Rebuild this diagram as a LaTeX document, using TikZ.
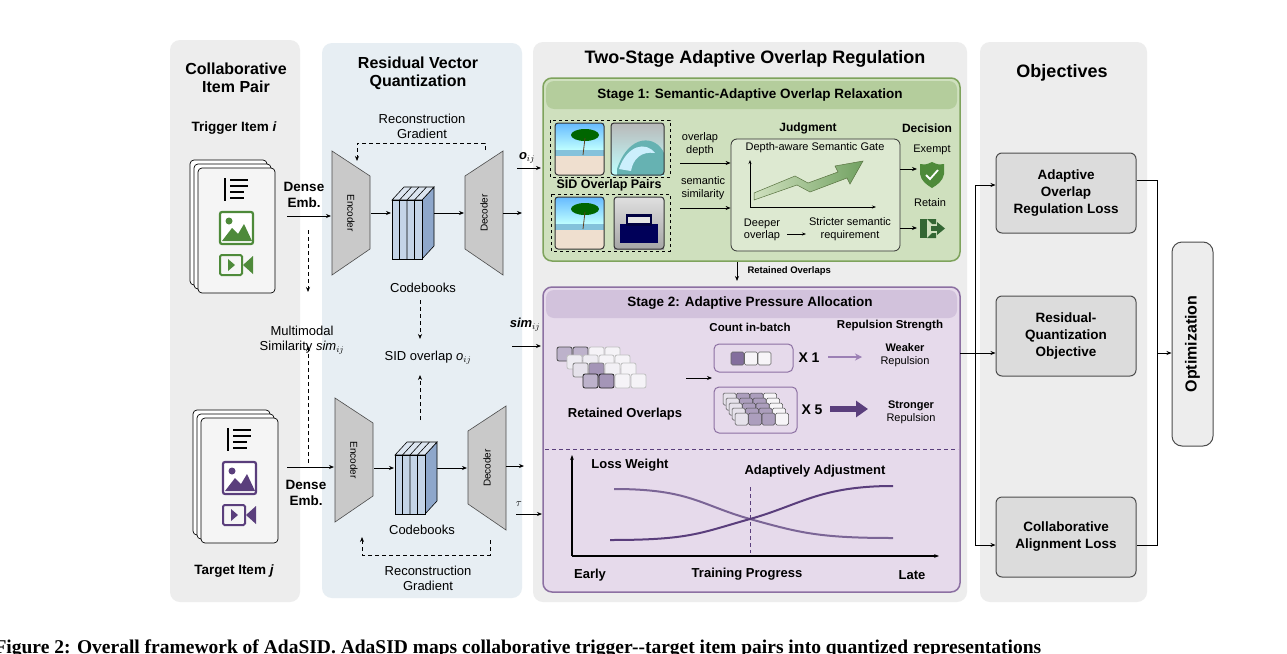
\documentclass[tikz,border=0pt]{standalone}
\usepackage{fontspec}
\setmainfont{Liberation Sans}
\newfontfamily\capfont{Liberation Serif}
\usetikzlibrary{arrows.meta,shapes.geometric}
\definecolor{panelgray}{HTML}{EDEDED}
\definecolor{panelblue}{HTML}{E7EEF3}
\definecolor{sgfill}{HTML}{CFE0BE}
\definecolor{sghead}{HTML}{B4CD9C}
\definecolor{sgline}{HTML}{7EA35C}
\definecolor{spfill}{HTML}{E6DAEB}
\definecolor{sphead}{HTML}{D2C2DC}
\definecolor{spline}{HTML}{8C70A2}
\definecolor{pdark}{HTML}{5A3E7C}
\definecolor{pmid}{HTML}{9C80B5}
\definecolor{gdark}{HTML}{4E8A3A}
\definecolor{objfill}{HTML}{DCDCDC}
\definecolor{cbfront}{HTML}{C4D4E7}
\definecolor{cbside}{HTML}{8EA7CB}
\definecolor{cbtop}{HTML}{DCE5F0}
\definecolor{trap}{HTML}{C9C9C9}
\newcommand{\mycube}[2]{%
 \begin{scope}[shift={(#1,#2)}]
 \fill[cbside,draw=black,line width=0.6pt] (30,0)--(42,-13)--(42,46)--(30,59)--cycle;
 \fill[cbtop,draw=black,line width=0.6pt] (0,0)--(12,-13)--(42,-13)--(30,0)--cycle;
 \fill[cbfront,draw=black,line width=0.6pt] (0,0) rectangle (30,59);
 \foreach \k in {7.5,15,22.5}{\draw[line width=0.6pt] (\k,59)--(\k,0)--++(12,-13);}
 \end{scope}}
\newcommand{\myenc}[3]{%
 \fill[trap,draw=black!70,line width=0.6pt] (#1,#2)--(#1+38,#2+25)--(#1+38,#2+98)--(#1,#2+124)--cycle;
 \node[rotate=-90,font=\fontsize{10}{10}\selectfont] at (#1+19,#2+62) {#3};}
\newcommand{\mydec}[3]{%
 \fill[trap,draw=black!70,line width=0.6pt] (#1,#2+25)--(#1+38,#2)--(#1+38,#2+124)--(#1,#2+98)--cycle;
 \node[rotate=90,font=\fontsize{10}{10}\selectfont] at (#1+19,#2+62) {#3};}
\newcommand{\mydoc}[3]{%
 \begin{scope}[shift={(#1,#2)}]
 \foreach \d in {-8,-4}{\draw[fill=white,rounded corners=4pt,line width=0.7pt] (\d,\d) rectangle ++(77,125);}
 \draw[fill=white!96!black,rounded corners=4pt,line width=0.7pt] (0,0) rectangle (77,125);
 \draw[line width=1.4pt] (27,10)--(27,33);
 \foreach \yy/\ww in {12/18,18/18,24/14,30/14}{\draw[line width=1.4pt] (32,\yy)--++(\ww,0);}
 \draw[#3,line width=2.2pt,rounded corners=2pt,fill=white] (22,44) rectangle (55,76);
 \fill[#3] (24,73)--(34,60)--(40,66)--(46,56)--(54,73)--cycle;
 \fill[#3] (31,53) circle (3.5);
 \draw[#3,line width=2pt,rounded corners=1.5pt] (22,87) rectangle (44,107);
 \fill[#3] (45,97)--(55,88)--(55,106)--cycle;
 \fill[#3] (30,91)--(37,97)--(30,103)--cycle;
 \end{scope}}
\newcommand{\mybeach}[2]{%
 \begin{scope}[shift={(#1,#2)}]
  \fill[top color=blue!45!cyan!60,bottom color=cyan!25] (0,0) rectangle (49,27);
  \fill[cyan!50!teal!55] (0,27) rectangle (49,33);
  \fill[brown!25!white] (0,33) rectangle (49,52);
  \fill[green!40!black] (30,12) ellipse (14 and 6);
  \draw[brown!50!black,line width=0.8pt] (30,15)--(28,32);
  \draw[black!80,rounded corners=3pt,line width=1pt] (0,0) rectangle (49,52);
 \end{scope}}
\newcommand{\mywave}[2]{%
 \begin{scope}[shift={(#1,#2)}]
  \fill[top color=gray!55,bottom color=cyan!25] (0,0) rectangle (53,52);
  \fill[teal!60] (6,46) .. controls (18,10) and (45,12) .. (53,30) -- (53,52) -- (6,52) -- cycle;
  \fill[white!80!cyan] (8,46) .. controls (16,22) and (35,18) .. (44,30) .. controls (30,28) and (22,36) .. (20,48) -- cycle;
  \draw[black!80,rounded corners=3pt,line width=1pt] (0,0) rectangle (53,52);
 \end{scope}}
\newcommand{\mycar}[2]{%
 \begin{scope}[shift={(#1,#2)}]
  \fill[top color=gray!25,bottom color=gray!70] (0,0) rectangle (50,52);
  \fill[blue!35!black] (6,27) rectangle (44,46);
  \fill[blue!25!black] (12,17) rectangle (38,29);
  \fill[gray!20] (14,20) rectangle (36,26);
  \draw[black!80,rounded corners=3pt,line width=1pt] (0,0) rectangle (50,52);
 \end{scope}}
\tikzset{
 panel/.style={rounded corners=10pt,draw=none},
 title/.style={font=\bfseries\fontsize{16}{18}\selectfont,align=center},
 txt/.style={font=\fontsize{13}{15}\selectfont,align=center},
 stxt/.style={font=\fontsize{11}{12.5}\selectfont,align=center},
 sbtxt/.style={font=\bfseries\fontsize{11.5}{13}\selectfont,align=center},
 btxt/.style={font=\bfseries\fontsize{13.5}{16}\selectfont,align=center},
 arr/.style={-{Stealth[length=5pt,width=4pt]},line width=0.8pt},
 darr/.style={-{Stealth[length=5pt,width=4pt]},line width=0.8pt,dash pattern=on 4pt off 3pt},
 objbox/.style={draw=black!70,fill=objfill,rounded corners=6pt,line width=1pt,minimum width=140pt,minimum height=80pt,font=\bfseries\fontsize{13.5}{17}\selectfont,align=center},
}
\begin{document}
\begin{tikzpicture}[x=1pt,y=-1pt]
\useasboundingbox (0,0) rectangle (1287,653);
\fill[white] (0,0) rectangle (1287,653);
\fill[panelgray,panel] (170,40) rectangle (300,602);
\fill[panelblue,panel] (322,43) rectangle (522,598);
\fill[panelgray,panel] (533,42) rectangle (967,602);
\fill[panelgray,panel] (980,42) rectangle (1147,602);
\node[title] (t1) at (236,78) {Collaborative\\Item Pair};
\node[title] (t2) at (418,73) {Residual Vector\\Quantization};
\node[font=\bfseries\fontsize{18}{20}\selectfont] (t3) at (755,59) {Two-Stage Adaptive Overlap Regulation};
\node[font=\bfseries\fontsize{18}{20}\selectfont] (t4) at (1062,73) {Objectives};
\node[btxt] (trig) at (234,128) {Trigger Item \textit{i}};
\node[btxt] (targ) at (234,571) {Target Item \textit{j}};
\mydoc{198}{168}{gdark}
\mydoc{201}{418}{pdark}
\node[btxt] (de1) at (304,195) {Dense\\Emb.};
\node[btxt] (de2) at (306,493) {Dense\\Emb.};
\node[txt] (mm) at (302,340) {Multimodal\\Similarity \textit{sim}$_{ij}$};
\coordinate (in1) at (287,216); \coordinate (in2) at (287,467);
\myenc{332}{151}{Encoder}
\myenc{335}{398}{Encoder}
\mydec{465}{151}{Decoder}
\mydec{468}{406}{Decoder}
\mycube{392}{200}
\mycube{395}{455}
\node[txt] (cb1) at (423,288) {Codebooks};
\node[txt] (cb2) at (422,530) {Codebooks};
\node[txt] (sid) at (428,358) {SID overlap \textit{o}$_{ij}$};
\node[txt] (rg1) at (422,126) {Reconstruction\\Gradient};
\node[txt] (rg2) at (428,578) {Reconstruction\\Gradient};
\coordinate (e1) at (331,216); \coordinate (e2) at (334,467);
\draw[arr] (in1)--(e1); \draw[arr] (in2)--(e2);
\draw[arr] (371,213)--(391,213); \draw[arr] (434,213)--(464,213);
\draw[arr] (374,468)--(394,468); \draw[arr] (437,468)--(467,468);
\draw[arr] (503,213)--(522,213); \draw[arr] (506,466)--(524,466);
\draw[darr] (485,150)--(485,143)--(357,143)--(357,161);
\draw[darr] (490,540)--(490,555)--(362,555)--(362,537);
\draw[darr] (308,230)--(308,292);
\draw[darr] (308,463)--(308,346);
\draw[darr] (420,300)--(420,339);
\draw[darr] (420,420)--(420,375);
\node[font=\bfseries\itshape\fontsize{13}{14}\selectfont] (oij) at (527,158) {o$_{ij}$};
\node[font=\bfseries\itshape\fontsize{13}{14}\selectfont] (simij) at (525,325) {sim$_{ij}$};
\node[font=\bfseries\fontsize{11}{12}\selectfont] (tau) at (519,504) {$\tau$};
\draw[arr] (517,168)--(541,168);
\draw[arr] (512,346)--(541,346);
\draw[arr] (516,514)--(542,514);
% Stage 1
\draw[sgline,fill=sgfill,rounded corners=9pt,line width=1.5pt] (543,78) rectangle (960,261);
\fill[sghead,rounded corners=8pt] (546,81) rectangle (957,109);
\node[font=\bfseries\fontsize{13.5}{15}\selectfont] (s1) at (750,95) {Stage 1: Semantic-Adaptive Overlap Relaxation};
\draw[dashed,line width=0.8pt] (550,120) rectangle (670,177);
\draw[dashed,line width=0.8pt] (551,194) rectangle (670,251);
\mybeach{555}{123}
\mywave{611}{123}
\mybeach{555}{197}
\mycar{614}{197}
\node[font=\bfseries\fontsize{12.5}{14}\selectfont] (sidp) at (609,185) {SID Overlap Pairs};
\node[stxt] (od) at (700,144) {overlap\\depth};
\node[stxt] (ss) at (703,188) {semantic\\similarity};
\node[font=\bfseries\fontsize{12}{13}\selectfont] (judg) at (808,128) {Judgment};
\node[font=\bfseries\fontsize{12}{13}\selectfont] (deci) at (927,128) {Decision};
\node[draw=black!80,fill=sgfill!70!white,rounded corners=6pt,line width=0.8pt,minimum width=169pt,minimum height=112pt] (jb) at (815.5,195) {};
\draw[arr] (680,163)--(jb.west|-0,163);
\draw[arr] (680,208)--(jb.west|-0,208);
\node[stxt] (gate) at (815,148) {Depth-aware Semantic Gate};
\draw[-{Stealth[length=4pt]},line width=0.7pt] (750,207)--(750,160);
\draw[-{Stealth[length=4pt]},line width=0.7pt] (750,207)--(876,207);
\shade[left color=sgfill,right color=gdark!80,draw=sgline!70!black,line width=0.5pt]
 (754,200)--(754,193)--(795,176)--(808,183)--(838,172)--(835,166)--(863,161)--(850,184)--(847,178)--(810,192)--(797,185)--cycle;
\node[stxt] (deep) at (762,230) {Deeper\\overlap};
\node[stxt] (strict) at (850,229) {Stricter semantic\\requirement};
\draw[-{Stealth[length=4pt]},line width=0.7pt] (787,234)--(806,234);
\node[stxt] (exempt) at (932,150) {Exempt};
\node[stxt] (retain) at (930,203) {Retain};
\draw[arr] (jb.east|-0,169)--(917,169);
\draw[arr] (jb.east|-0,228)--(917,228);
\fill[gdark] (932,162) .. controls (926,165) and (923,165) .. (920,164) -- (920,174) .. controls (921,181) and (927,185) .. (932,188) .. controls (937,185) and (943,181) .. (944,174) -- (944,164) .. controls (941,165) and (938,165) .. (932,162) -- cycle;
\draw[white,line width=1.8pt] (926,175)--(930,179)--(938,170);
\fill[green!25!black!80] (920,219) rectangle (927,238);
\fill[green!25!black!80] (927,219)--(936,219)--(936,224)--(932,224)--cycle;
\fill[green!25!black!80] (927,238)--(936,238)--(936,233)--(932,233)--cycle;
\fill[green!25!black!80] (931,226) rectangle (938,231);
\fill[green!25!black!80] (937,222)--(945,228.5)--(937,235)--cycle;
\draw[arr] (737,262)--(737,281);
\node[font=\bfseries\fontsize{9.5}{10}\selectfont,anchor=west] (ro) at (744,271) {Retained Overlaps};
% Stage 2
\draw[spline,fill=spfill,rounded corners=9pt,line width=1.5pt] (543,287) rectangle (960,592);
\fill[sphead,rounded corners=8pt] (546,290) rectangle (957,318);
\node[font=\bfseries\fontsize{13.5}{15}\selectfont] (s2) at (750,303) {Stage 2: Adaptive Pressure Allocation};
\node[sbtxt] (cnt) at (750,327) {Count in-batch};
\node[sbtxt] (rep) at (890,326) {Repulsion Strength};
\foreach \ox/\oy/\ma/\mb/\mc/\md/\da in {557/347/40/40/6/6/70,567/355/10/10/6/6/25,573/363/15/55/8/6/50,583/374/40/55/6/6/85}{
  \draw[rounded corners=2pt,fill=pdark!\ma!white,draw=black!\da!white,line width=0.8pt] (\ox,\oy) rectangle ++(15,14);
  \draw[rounded corners=2pt,fill=pdark!\mb!white,draw=black!\da!white,line width=0.8pt] (\ox+16,\oy) rectangle ++(15,14);
  \draw[rounded corners=2pt,fill=pdark!\mc!white,draw=black!25,line width=0.8pt] (\ox+32,\oy) rectangle ++(15,14);
  \draw[rounded corners=2pt,fill=pdark!\md!white,draw=black!25,line width=0.8pt] (\ox+48,\oy) rectangle ++(15,14);
}
\node[font=\bfseries\fontsize{13}{15}\selectfont] (rol) at (625,414) {Retained Overlaps};
\draw[arr] (686,378)--(712,378);
\node[draw=spline,line width=1pt,rounded corners=5pt,minimum width=79pt,minimum height=28pt] (b1) at (753.5,358) {};
\foreach \c/\m in {0/75,1/5,2/5}{\draw[rounded corners=1.5pt,fill=pdark!\m!white,draw=black!60,line width=0.6pt] (731+\c*13.5,352) rectangle ++(13,13);}
\node[font=\bfseries\fontsize{14}{15}\selectfont] (x1) at (809,358) {X 1};
\draw[-{Stealth[length=7pt,width=7pt]},pmid,line width=1.5pt] (828,357)--(862,357);
\node[font=\fontsize{11}{13}\selectfont,align=center] (weak) at (905,355) {\textbf{Weaker}\\Repulsion};
\node[draw=spline,line width=1pt,rounded corners=5pt,minimum width=83pt,minimum height=46pt] (b2) at (755.5,410) {};
\foreach \r in {0,...,4}{
 \foreach \c/\m in {0/15,1/50,2/50,3/5}{
  \draw[rounded corners=1.5pt,fill=pdark!\m!white,draw=black!70,line width=0.5pt] (723+\r*3+\c*13.5,393+\r*5) rectangle ++(13,12);}}
\node[font=\bfseries\fontsize{14}{15}\selectfont] (x5) at (812,410) {X 5};
\draw[-{Triangle[length=12pt,width=16pt]},pdark,line width=6pt] (830,409)--(868,409);
\node[font=\fontsize{11}{13}\selectfont,align=center] (strong) at (911,412) {\textbf{Stronger}\\Repulsion};
\draw[dash pattern=on 4pt off 3pt,line width=0.8pt,pdark] (545,449)--(958,449);
\draw[-{Stealth[length=5pt]},line width=1.2pt] (572,556)--(572,455);
\draw[-{Stealth[length=5pt]},line width=1.2pt] (572,556)--(939,556);
\node[font=\bfseries\fontsize{13}{15}\selectfont] (lw) at (630,465) {Loss Weight};
\node[font=\bfseries\fontsize{13}{15}\selectfont] (aa) at (815,471) {Adaptively Adjustment};
\draw[pdark!80,line width=2pt] (614,489) .. controls (690,489) and (700,505) .. (750,519) .. controls (800,533) and (820,538) .. (893,538);
\draw[pdark,line width=2pt] (610,540) .. controls (690,540) and (700,533) .. (750,519) .. controls (800,505) and (820,486) .. (893,486);
\draw[dash pattern=on 4pt off 3pt,line width=0.8pt,pdark] (750,487)--(750,553);
\node[font=\bfseries\fontsize{13}{15}\selectfont] (early) at (590,575) {Early};
\node[font=\bfseries\fontsize{13}{15}\selectfont] (tp) at (747,574) {Training Progress};
\node[font=\bfseries\fontsize{13}{15}\selectfont] (late) at (912,575) {Late};
% objectives
\node[objbox] (oA) at (1066,193) {Adaptive\\Overlap\\Regulation Loss};
\node[objbox] (oB) at (1066,336) {Residual-\\Quantization\\Objective};
\node[objbox] (oC) at (1066,537) {Collaborative\\Alignment Loss};
\node[draw=black!70,fill=panelgray,rounded corners=10pt,line width=1pt,minimum width=41pt,minimum height=204pt] (opt) at (1192.5,344) {};
\node[rotate=90,font=\bfseries\fontsize{16}{18}\selectfont] (optl) at (opt) {Optimization};
\draw[line width=0.9pt] (960,353)--(975,353);
\draw[line width=0.9pt] (975,185)--(975,545);
\draw[arr] (975,185)--(oA.west|-0,185);
\draw[arr] (975,353)--(oB.west|-0,353);
\draw[arr] (975,545)--(oC.west|-0,545);
\draw[line width=0.9pt] (oA.east|-0,180)--(1157,180)--(1157,545)--(oC.east|-0,545);
\draw[arr] (1157,353)--(opt.west|-0,353);
\node[anchor=west,font=\capfont\bfseries\fontsize{19.5}{22}\selectfont] (cap) at (-9,649) {Figure 2: Overall framework of AdaSID. AdaSID maps collaborative trigger--target item pairs into quantized representations};
\end{tikzpicture}
\end{document}
